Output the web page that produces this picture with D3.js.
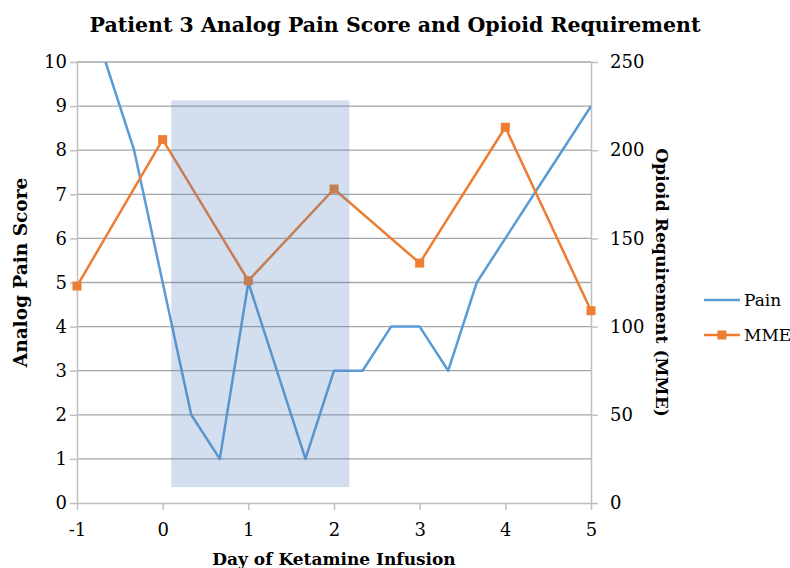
<!DOCTYPE html>
<html>
<head>
<meta charset="utf-8">
<script src="https://cdn.jsdelivr.net/npm/d3@7"></script>
<style>
  body { margin: 0; background: #fff; }
  text { font-family: "DejaVu Serif", "Liberation Serif", serif; fill: #000; }
</style>
</head>
<body>
<div id="chart"></div>
<script>
// Pain score readings, every third of a day
var painDays = [-2/3, -1/3, 0, 1/3, 2/3, 1, 4/3, 5/3, 2, 7/3, 8/3, 3, 10/3, 11/3, 4, 13/3, 14/3, 5];
var painScores = [10, 8, 5, 2, 1, 5, 3, 1, 3, 3, 4, 4, 3, 5, 6, 7, 8, 9];

// Daily opioid requirement (MME)
var mmeDays = [-1, 0, 1, 2, 3, 4, 5];
var mmeValues = [123, 206, 126, 178, 136, 213, 109];

// Ketamine infusion shaded window (day range, pain score range)
var shadeDays = [0.1, 2.18];
var shadeScores = [0.36, 9.13];

var xTicks = [-1, 0, 1, 2, 3, 4, 5];
var leftTicks = [0, 1, 2, 3, 4, 5, 6, 7, 8, 9, 10];
var rightTicks = [0, 50, 100, 150, 200, 250];

var svgWidth = 790;
var svgHeight = 568;

var margin = { top: 62, right: 199, bottom: 65, left: 77 };
var width = svgWidth - margin.left - margin.right;
var height = svgHeight - margin.top - margin.bottom;

var svg = d3.select("#chart")
  .append("svg")
  .attr("width", svgWidth)
  .attr("height", svgHeight);

var chartGroup = svg.append("g")
  .attr("transform", `translate(${margin.left}, ${margin.top})`);

var xScale = d3.scaleLinear().domain([-1, 5]).range([0, width]);
var yLeft = d3.scaleLinear().domain([0, 10]).range([height, 0]);
var yRight = d3.scaleLinear().domain([0, 250]).range([height, 0]);

var blue = "#5b9bd5";
var orange = "#ed7d31";

// Gridlines
chartGroup.selectAll(".grid")
  .data(leftTicks.slice(1))
  .enter()
  .append("line")
  .attr("x1", 0)
  .attr("x2", width)
  .attr("y1", d => yLeft(d))
  .attr("y2", d => yLeft(d))
  .attr("stroke", "#a6a6a6")
  .attr("stroke-width", 1.3);

// Axes
function styleAxis(g) {
  g.select(".domain").attr("stroke", "#bfbfbf").attr("stroke-width", 1.5);
  g.selectAll(".tick line").attr("stroke", "#bfbfbf").attr("stroke-width", 1.5);
  g.selectAll(".tick text").style("font-size", "18px").attr("fill", "#000");
}

var plainNum = d => String(d);

var bottomAxis = d3.axisBottom(xScale).tickValues(xTicks).tickFormat(plainNum)
  .tickSize(7).tickSizeOuter(0).tickPadding(13);
chartGroup.append("g")
  .attr("transform", `translate(0, ${height})`)
  .call(bottomAxis)
  .call(styleAxis);

var leftAxis = d3.axisLeft(yLeft).tickValues(leftTicks).tickFormat(plainNum)
  .tickSize(7).tickSizeOuter(0).tickPadding(3);
chartGroup.append("g")
  .call(leftAxis)
  .call(styleAxis);

var rightAxis = d3.axisRight(yRight).tickValues(rightTicks).tickFormat(plainNum)
  .tickSize(7).tickSizeOuter(0).tickPadding(12);
chartGroup.append("g")
  .attr("transform", `translate(${width}, 0)`)
  .call(rightAxis)
  .call(styleAxis);

// Pain line (clipped to plot area)
chartGroup.append("clipPath")
  .attr("id", "plotClip")
  .append("rect")
  .attr("width", width)
  .attr("height", height);

var painLine = d3.line()
  .x((d, i) => xScale(painDays[i]))
  .y(d => yLeft(d));

chartGroup.append("path")
  .datum(painScores)
  .attr("clip-path", "url(#plotClip)")
  .attr("d", painLine)
  .attr("fill", "none")
  .attr("stroke", blue)
  .attr("stroke-width", 2.5)
  .attr("stroke-linejoin", "round");

// MME line with square markers
var mmeLine = d3.line()
  .x((d, i) => xScale(mmeDays[i]))
  .y(d => yRight(d));

chartGroup.append("path")
  .datum(mmeValues)
  .attr("d", mmeLine)
  .attr("fill", "none")
  .attr("stroke", orange)
  .attr("stroke-width", 2.5)
  .attr("stroke-linejoin", "round");

chartGroup.selectAll(".mme")
  .data(mmeValues)
  .enter()
  .append("rect")
  .attr("x", (d, i) => xScale(mmeDays[i]) - 4.5)
  .attr("y", d => yRight(d) - 4.5)
  .attr("width", 9)
  .attr("height", 9)
  .attr("fill", orange);

// Shaded ketamine window, drawn over the lines
chartGroup.append("rect")
  .attr("x", xScale(shadeDays[0]))
  .attr("y", yLeft(shadeScores[1]))
  .attr("width", xScale(shadeDays[1]) - xScale(shadeDays[0]))
  .attr("height", yLeft(shadeScores[0]) - yLeft(shadeScores[1]))
  .attr("fill", "#4f81bd")
  .attr("opacity", 0.25);

// Title and axis labels
svg.append("text")
  .attr("x", 395)
  .attr("y", 32)
  .attr("text-anchor", "middle")
  .style("font-size", "20.5px")
  .style("font-weight", "bold")
  .text("Patient 3 Analog Pain Score and Opioid Requirement");

svg.append("text")
  .attr("x", margin.left + width / 2)
  .attr("y", 565)
  .attr("text-anchor", "middle")
  .style("font-size", "17px")
  .style("font-weight", "bold")
  .text("Day of Ketamine Infusion");

svg.append("text")
  .attr("transform", `translate(27, ${margin.top + height / 2 - 10}) rotate(-90)`)
  .attr("text-anchor", "middle")
  .style("font-size", "18.5px")
  .style("font-weight", "bold")
  .text("Analog Pain Score");

svg.append("text")
  .attr("transform", `translate(656, ${margin.top + height / 2}) rotate(90)`)
  .attr("text-anchor", "middle")
  .style("font-size", "17.2px")
  .style("font-weight", "bold")
  .text("Opioid Requirement (MME)");

// Legend
var legend = svg.append("g").attr("transform", "translate(704, 0)");

legend.append("line")
  .attr("x1", 0).attr("x2", 36)
  .attr("y1", 300).attr("y2", 300)
  .attr("stroke", blue).attr("stroke-width", 2.5);

legend.append("text")
  .attr("x", 40).attr("y", 306)
  .style("font-size", "17px")
  .text("Pain");

legend.append("line")
  .attr("x1", 0).attr("x2", 36)
  .attr("y1", 335).attr("y2", 335)
  .attr("stroke", orange).attr("stroke-width", 2.5);

legend.append("rect")
  .attr("x", 13.5).attr("y", 330.5)
  .attr("width", 9).attr("height", 9)
  .attr("fill", orange);

legend.append("text")
  .attr("x", 40).attr("y", 341)
  .style("font-size", "17px")
  .text("MME");
</script>
</body>
</html>
